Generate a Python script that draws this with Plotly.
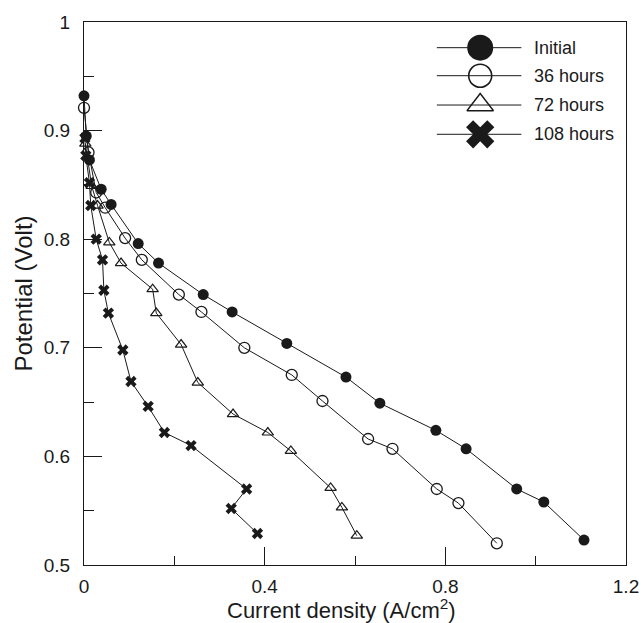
import plotly.graph_objects as go

# Polarization curves (current density in A/cm2, potential in V)
initial_x = [0.0, 0.005, 0.012, 0.038, 0.060, 0.120, 0.165, 0.264, 0.328, 0.449,
             0.580, 0.655, 0.779, 0.846, 0.958, 1.018, 1.107]
initial_y = [0.932, 0.895, 0.873, 0.846, 0.832, 0.796, 0.778, 0.749, 0.733, 0.704,
             0.673, 0.649, 0.624, 0.607, 0.570, 0.558, 0.523]

h36_x = [0.0, 0.010, 0.027, 0.047, 0.091, 0.128, 0.210, 0.260, 0.355, 0.460,
         0.528, 0.629, 0.683, 0.781, 0.829, 0.914]
h36_y = [0.921, 0.880, 0.843, 0.829, 0.801, 0.781, 0.749, 0.733, 0.700, 0.675,
         0.651, 0.616, 0.607, 0.570, 0.557, 0.520]

h72_x = [0.003, 0.017, 0.030, 0.056, 0.082, 0.152, 0.160, 0.215, 0.252, 0.330,
         0.407, 0.458, 0.546, 0.571, 0.604]
h72_y = [0.888, 0.849, 0.831, 0.797, 0.778, 0.754, 0.732, 0.703, 0.668, 0.639,
         0.622, 0.605, 0.571, 0.553, 0.527]

h108_x = [0.002, 0.004, 0.012, 0.015, 0.027, 0.041, 0.044, 0.054, 0.086, 0.104,
          0.142, 0.178, 0.237, 0.360, 0.326, 0.384]
h108_y = [0.893, 0.877, 0.852, 0.831, 0.800, 0.781, 0.753, 0.732, 0.698, 0.669,
          0.646, 0.622, 0.610, 0.570, 0.552, 0.529]

series_names = ["Initial", "36 hours", "72 hours", "108 hours"]

x_ticks = [0, 0.4, 0.8, 1.2]
x_ticktext = ["0", "0.4", "0.8", "1.2"]
y_ticks = [0.5, 0.6, 0.7, 0.8, 0.9, 1.0]
y_ticktext = ["0.5", "0.6", "0.7", "0.8", "0.9", "1"]

INK = "#1a1a1a"
FONT = "Liberation Sans, Arial, sans-serif"

styles = [
    dict(symbol="circle", color=INK, line=dict(width=0, color=INK), size=11),
    dict(symbol="circle-open", color=INK, line=dict(width=1.3, color=INK), size=11),
    dict(symbol="triangle-up-open", color=INK, line=dict(width=1.2, color=INK), size=10),
    dict(symbol="x", color=INK, line=dict(width=0, color=INK), size=10),
]
legend_styles = [
    dict(symbol="circle", color=INK, line=dict(width=0, color=INK), size=26),
    dict(symbol="circle-open", color=INK, line=dict(width=1.6, color=INK), size=23),
    dict(symbol="triangle-up-open", color=INK, line=dict(width=1.4, color=INK), size=23),
    dict(symbol="x", color=INK, line=dict(width=0, color=INK), size=25),
]

data = [(initial_x, initial_y), (h36_x, h36_y), (h72_x, h72_y), (h108_x, h108_y)]

fig = go.Figure()
for (xs, ys), name, st in zip(data, series_names, styles):
    fig.add_trace(go.Scatter(
        x=xs, y=ys, name=name, mode="lines+markers",
        line=dict(color=INK, width=1),
        marker=st, cliponaxis=False, showlegend=False,
    ))

# Key drawn on an overlay axis in 0..1 units
legend_rows = [0.9527, 0.9011, 0.8471, 0.7932]
key_line_x = [0.651, 0.807]
key_marker_x = 0.731
key_text_x = 0.827
for row_y, name, st in zip(legend_rows, series_names, legend_styles):
    fig.add_trace(go.Scatter(
        x=key_line_x, y=[row_y, row_y], mode="lines",
        line=dict(color=INK, width=1), xaxis="x2", yaxis="y2",
        showlegend=False, hoverinfo="skip",
    ))
    fig.add_trace(go.Scatter(
        x=[key_marker_x], y=[row_y], mode="markers", marker=st,
        xaxis="x2", yaxis="y2", showlegend=False, hoverinfo="skip",
        cliponaxis=False,
    ))
    fig.add_annotation(
        x=key_text_x, y=row_y, xref="x2", yref="y2", text=name,
        showarrow=False, xanchor="left", yanchor="middle",
        font=dict(family=FONT, size=18, color=INK),
    )

# x-axis title placed below the tick labels
fig.add_annotation(
    x=0.475, y=0, xref="paper", yref="paper", yshift=-44,
    text="Current density (A/cm<sup>2</sup>)", showarrow=False,
    xanchor="center", yanchor="middle",
    font=dict(family=FONT, size=22, color=INK),
)

axis_common = dict(
    showline=True, linecolor=INK, linewidth=1.3, mirror=True,
    ticks="inside", ticklen=18, tickwidth=1.2, tickcolor=INK,
    showgrid=False, zeroline=False, automargin=False,
    tickfont=dict(family=FONT, size=19, color=INK),
)

fig.update_layout(
    width=643, height=623,
    margin=dict(l=84, r=17, t=22, b=58),
    paper_bgcolor="white", plot_bgcolor="white",
    font=dict(family=FONT, color=INK),
    xaxis=dict(
        range=[0, 1.2], tickvals=x_ticks, ticktext=x_ticktext,
        minor=dict(tickvals=[0.2, 0.6, 1.0], ticks="inside", ticklen=9,
                   tickwidth=1.2, tickcolor=INK),
        ticklabelstandoff=4,
        **axis_common,
    ),
    yaxis=dict(
        range=[0.5, 1.0], tickvals=y_ticks, ticktext=y_ticktext,
        minor=dict(tickvals=[0.55, 0.65, 0.75, 0.85, 0.95], ticks="inside",
                   ticklen=10, tickwidth=1.2, tickcolor=INK),
        ticklabelstandoff=9,
        title=dict(text="Potential (Volt)",
                   font=dict(family=FONT, size=24, color=INK), standoff=4),
        **axis_common,
    ),
    xaxis2=dict(range=[0, 1], overlaying="x", visible=False, fixedrange=True),
    yaxis2=dict(range=[0, 1], overlaying="y", visible=False, fixedrange=True),
)

fig.write_html("out.html")
